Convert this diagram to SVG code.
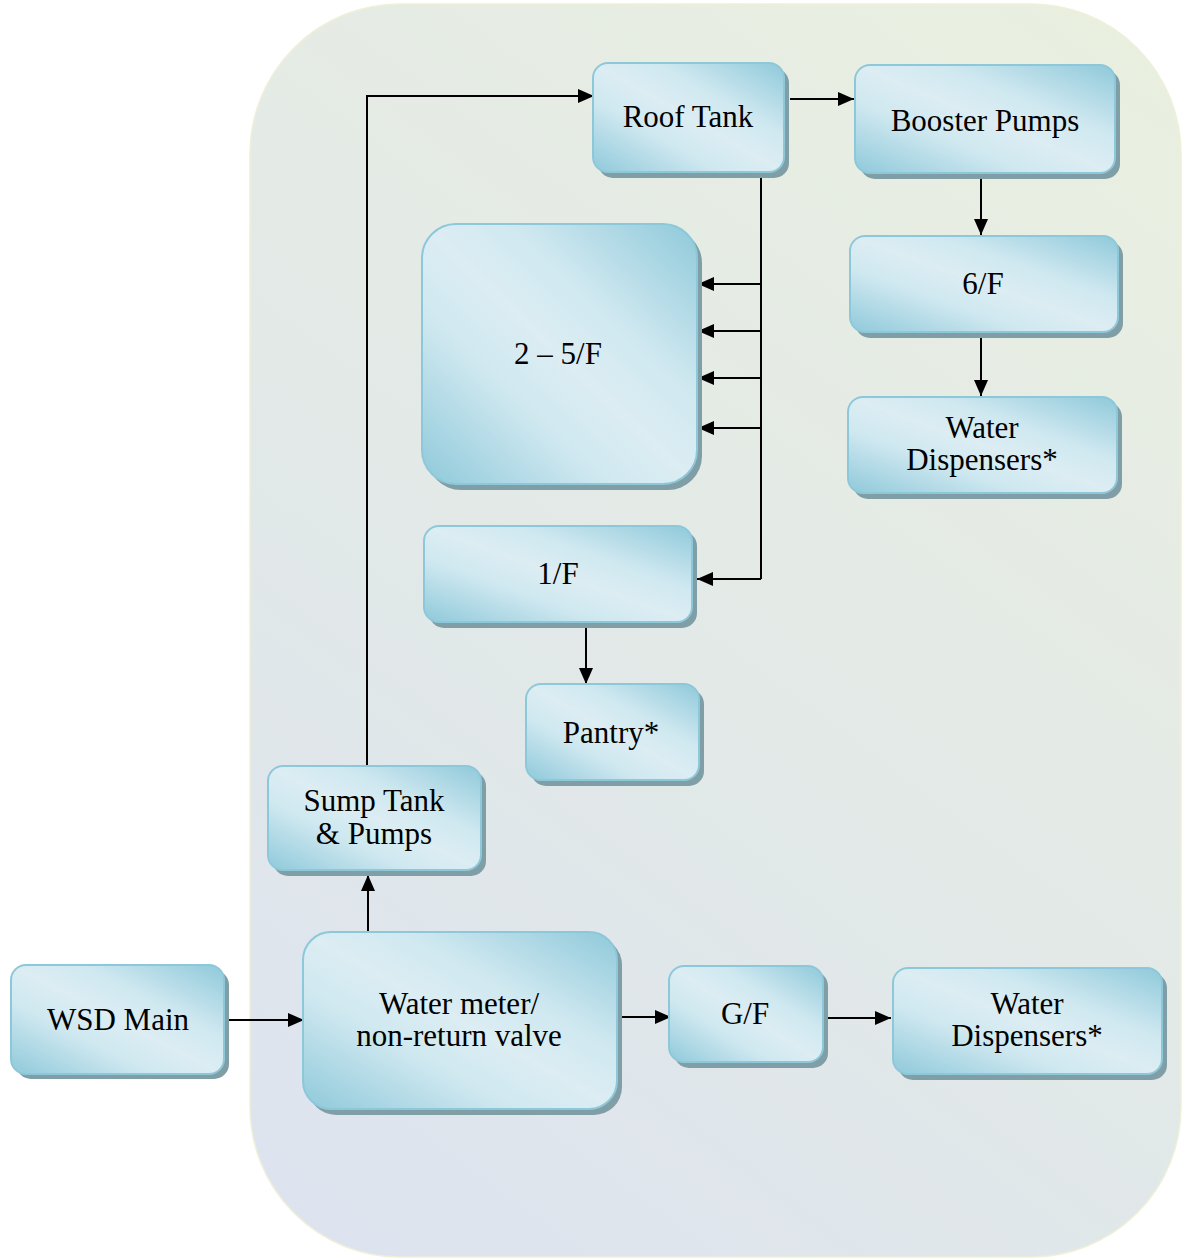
<svg xmlns="http://www.w3.org/2000/svg" width="1182" height="1258" viewBox="0 0 1182 1258">
<defs>
<linearGradient id="bg" x1="1182" y1="0" x2="250" y2="1258" gradientUnits="userSpaceOnUse">
<stop offset="0" stop-color="#eaf0df"/>
<stop offset="1" stop-color="#dce3ef"/>
</linearGradient>
<linearGradient id="nf" x1="1" y1="0" x2="0" y2="1">
<stop offset="0" stop-color="#8fc9da"/>
<stop offset="0.33" stop-color="#cfe8f0"/>
<stop offset="0.5" stop-color="#dcedf3"/>
<stop offset="0.67" stop-color="#cfe8f0"/>
<stop offset="1" stop-color="#8fc9da"/>
</linearGradient>
<marker id="ah" markerUnits="userSpaceOnUse" markerWidth="16" markerHeight="14" refX="16" refY="7" orient="auto">
<path d="M0,0 L16,7 L0,14 z" fill="#000"/>
</marker>
<style>
.sh{fill:#7f9ea5}
.bx{fill:url(#nf);stroke:#8dc8da;stroke-width:2}
.t{font-family:"Liberation Serif","Times New Roman",serif;font-size:31px;fill:#000;text-anchor:middle}
.c{fill:none;stroke:#000;stroke-width:2}
.a{marker-end:url(#ah)}
</style>
</defs>
<rect x="250" y="4" width="931" height="1253" rx="150" ry="150" fill="url(#bg)" stroke="#eef0d8" stroke-width="1.5"/>
<g id="connectors">
<path class="c a" d="M367,766 V96 H594"/>
<path class="c a" d="M790,99 H854"/>
<path class="c a" d="M981,178 V235"/>
<path class="c a" d="M981,337 V396"/>
<path class="c" d="M761,175 V579"/>
<path class="c a" d="M761,284 H698"/>
<path class="c a" d="M761,331 H698"/>
<path class="c a" d="M761,378 H698"/>
<path class="c a" d="M761,428 H698"/>
<path class="c a" d="M761,579 H697"/>
<path class="c a" d="M586,628 V684"/>
<path class="c a" d="M368,932 V875"/>
<path class="c a" d="M228,1020 H304"/>
<path class="c a" d="M614,1017 H671"/>
<path class="c a" d="M827,1018 H891"/>
</g>
<g id="roof-tank">
<rect class="sh" x="598" y="68" width="191" height="110" rx="15"/>
<rect class="bx" x="593" y="63" width="191" height="109" rx="15"/>
<text class="t" x="688" y="127">Roof Tank</text>
</g>
<g id="booster-pumps">
<rect class="sh" x="860" y="70" width="260" height="109" rx="15"/>
<rect class="bx" x="855" y="65" width="260" height="108" rx="15"/>
<text class="t" x="985" y="131">Booster Pumps</text>
</g>
<g id="floors-2-5">
<rect class="sh" x="427" y="229" width="275" height="261" rx="34"/>
<rect class="bx" x="422" y="224" width="275" height="260" rx="34"/>
<text class="t" x="558" y="364">2 – 5/F</text>
</g>
<g id="floor-6">
<rect class="sh" x="855" y="241" width="268" height="97" rx="15"/>
<rect class="bx" x="850" y="236" width="268" height="96" rx="15"/>
<text class="t" x="983" y="294">6/F</text>
</g>
<g id="water-dispensers-upper">
<rect class="sh" x="853" y="402" width="269" height="97" rx="15"/>
<rect class="bx" x="848" y="397" width="269" height="96" rx="15"/>
<text class="t" x="982" y="438">Water</text>
<text class="t" x="982" y="470">Dispensers*</text>
</g>
<g id="floor-1">
<rect class="sh" x="429" y="531" width="268" height="97" rx="15"/>
<rect class="bx" x="424" y="526" width="268" height="96" rx="15"/>
<text class="t" x="558" y="584">1/F</text>
</g>
<g id="pantry">
<rect class="sh" x="531" y="689" width="173" height="97" rx="15"/>
<rect class="bx" x="526" y="684" width="173" height="96" rx="15"/>
<text class="t" x="611" y="743">Pantry*</text>
</g>
<g id="sump-tank">
<rect class="sh" x="273" y="771" width="213" height="105" rx="15"/>
<rect class="bx" x="268" y="766" width="213" height="104" rx="15"/>
<text class="t" x="374" y="811">Sump Tank</text>
<text class="t" x="374" y="844">&amp; Pumps</text>
</g>
<g id="wsd-main">
<rect class="sh" x="16" y="970" width="213" height="109" rx="15"/>
<rect class="bx" x="11" y="965" width="213" height="109" rx="15"/>
<text class="t" x="118" y="1030">WSD Main</text>
</g>
<g id="water-meter">
<rect class="sh" x="308" y="937" width="314" height="178" rx="28"/>
<rect class="bx" x="303" y="932" width="314" height="177" rx="28"/>
<text class="t" x="459" y="1014">Water meter/</text>
<text class="t" x="459" y="1046">non-return valve</text>
</g>
<g id="ground-floor">
<rect class="sh" x="674" y="971" width="154" height="97" rx="15"/>
<rect class="bx" x="669" y="966" width="154" height="96" rx="15"/>
<text class="t" x="745" y="1024">G/F</text>
</g>
<g id="water-dispensers-lower">
<rect class="sh" x="898" y="973" width="269" height="107" rx="15"/>
<rect class="bx" x="893" y="968" width="269" height="106" rx="15"/>
<text class="t" x="1027" y="1014">Water</text>
<text class="t" x="1027" y="1046">Dispensers*</text>
</g>
</svg>
